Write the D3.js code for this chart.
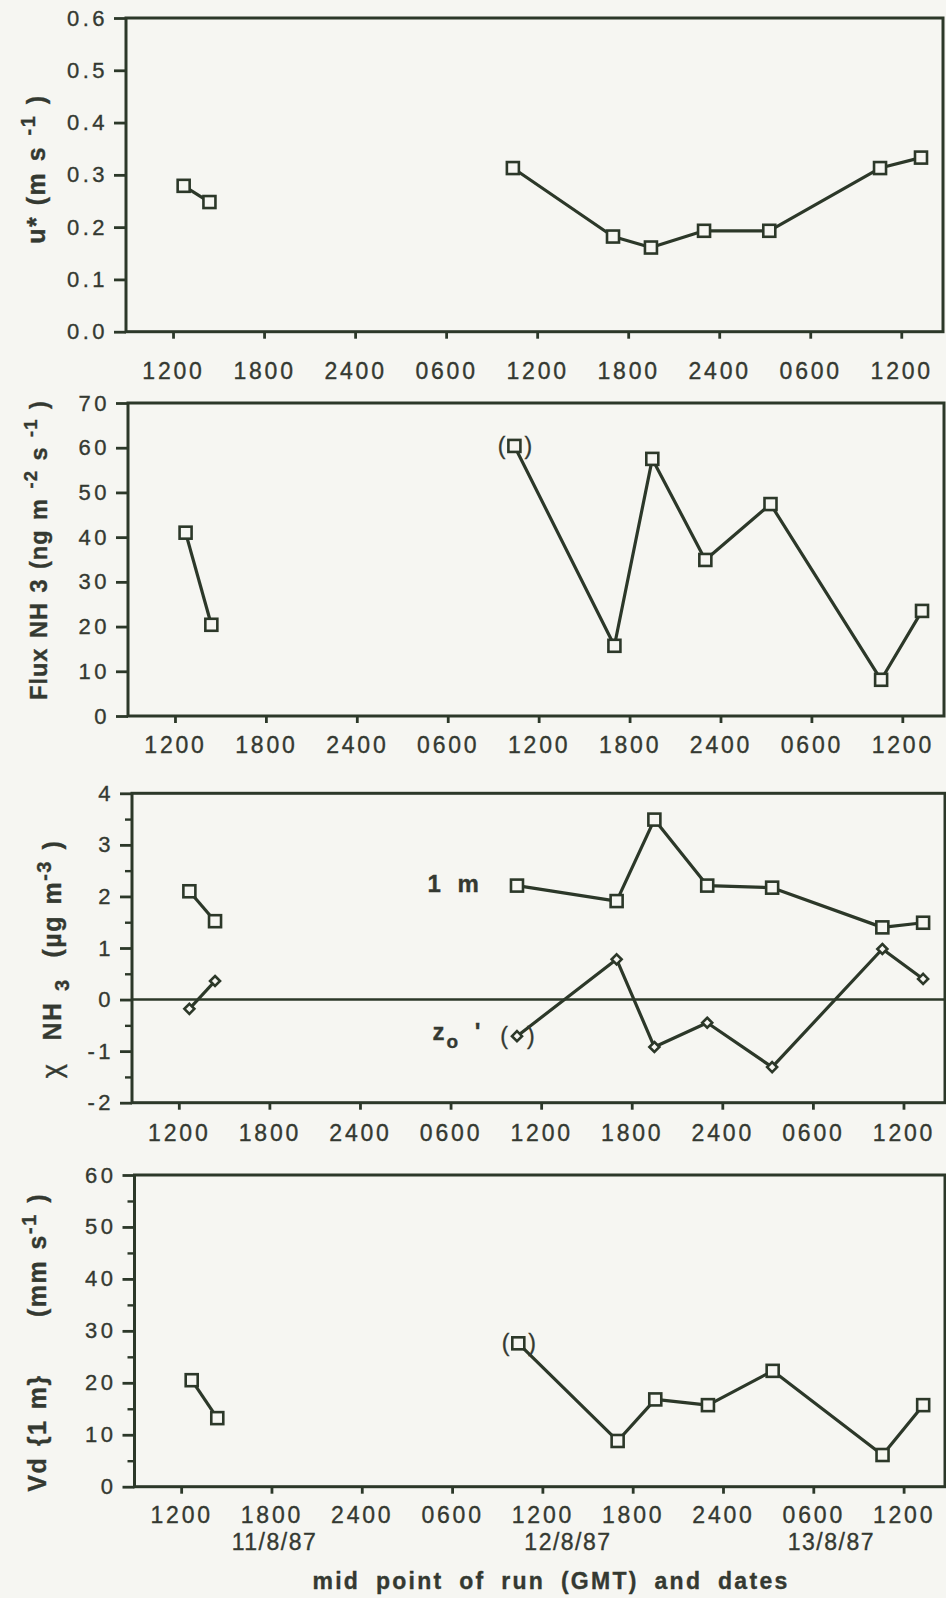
<html>
<head>
  <style>
    body { margin: 0; background: #f6f6f2; }
    text { font-family: 'Liberation Sans', Arial, Helvetica, sans-serif; fill: #343931; stroke: #343931; stroke-width: 0.35px; white-space: pre; }
  </style>
</head>

<body>

	<script src="https://d3js.org/d3.v7.min.js"></script>

	<script>
		//mid point of each run, hours after 0000 GMT on 11/8/87
		var runHours = [12.7, 14.4, 34.4, 41.0, 43.5, 47.0, 51.3, 58.6, 61.3];
		//runs that were measured one after the other (start index, end index)
		var runBlocks = [[0, 2], [2, 9]];
		//the doubtful run that is printed in brackets
		var bracketRun = 2;

		//friction velocity u* (m s-1)
		var uStar = [0.279, 0.248, 0.313, 0.182, 0.161, 0.193, 0.193, 0.313, 0.333];
		//NH3 flux (ng m-2 s-1)
		var fluxNH3 = [41.0, 20.4, 60.4, 15.7, 57.5, 34.9, 47.4, 8.1, 23.5];
		//NH3 concentration at 1 m and at zo' (ug m-3)
		var conc1m = [2.10, 1.52, 2.21, 1.91, 3.49, 2.21, 2.17, 1.40, 1.49];
		var concZo = [-0.18, 0.36, -0.71, 0.78, -0.92, -0.45, -1.31, 0.98, 0.40];
		//deposition velocity at 1 m (mm s-1)
		var vd1m = [20.5, 13.2, 27.6, 8.8, 16.8, 15.7, 22.3, 6.1, 15.7];

		//time axis
		var hourTicks = [12, 18, 24, 30, 36, 42, 48, 54, 60];
		var hourLabels = ['1200', '1800', '2400', '0600', '1200', '1800', '2400', '0600', '1200'];
		var dateLabels = ['11/8/87', '12/8/87', '13/8/87'];
		var dateHours = [18.2, 37.7, 55.2];

		//value axes
		var uStarTicks = [0, 0.1, 0.2, 0.3, 0.4, 0.5, 0.6];
		var fluxTicks = [0, 10, 20, 30, 40, 50, 60, 70];
		var concTicks = [-2, -1, 0, 1, 2, 3, 4];
		var concMinorTicks = [-1.5, -0.5, 0.5, 1.5, 2.5, 3.5];
		var vdTicks = [0, 10, 20, 30, 40, 50, 60];
		var vdMinorTicks = [5, 15, 25, 35, 45, 55];

		//svg container
		var width = 946;
		var height = 1598;
		var hourDomain = [8.9, 62.75];
		var ink = '#2c3829';
		var paper = '#f6f6f2';

		var svg = d3.select('body')
						.append('svg')
						.attr('width', width)
						.attr('height', height)
						;

		svg.append('rect')
			.attr('width', width)
			.attr('height', height)
			.attr('fill', paper)
			;

		//one entry per stacked panel; box is left, right, top, bottom in pixels
		var panels = [
			{
				box: [126, 943, 18, 331.7], domain: [0, 0.6], ticks: uStarTicks, minor: [],
				format: d3.format('.1f'), labelPad: 25,
				series: [{ values: uStar, marker: 'square', bracket: false }],
				titles: [{ x: 45, y: 169, size: 25, spacing: 1.5, parts: [['u* (m s ', 0], ['-1', 1], [' )', 0]] }]
			},
			{
				box: [128, 944, 403, 716], domain: [0, 70], ticks: fluxTicks, minor: [],
				format: String, labelPad: 15,
				series: [{ values: fluxNH3, marker: 'square', bracket: true }],
				titles: [{ x: 47, y: 550, size: 23.5, spacing: 1, parts: [['Flux NH 3 (ng m ', 0], ['-2', 1], [' s ', 0], ['-1', 1], [' )', 0]] }]
			},
			{
				box: [132, 945, 793.3, 1102.7], domain: [-2, 4], ticks: concTicks, minor: concMinorTicks,
				format: String, labelPad: 16, zeroLine: true,
				series: [
					{ values: conc1m, marker: 'square', bracket: false },
					{ values: concZo, marker: 'diamond', bracket: true }
				],
				titles: [{ x: 61, y: 959, size: 25, spacing: 1.5, parts: [['\u03c7  ', 2], ['NH ', 0], ['3', -1], ['  (\u00b5g m', 0], ['-3', 1], [' )', 0]] }],
				notes: [
					{ hour: 32.0, value: 2.08, anchor: 'end', parts: [['1 m', 0]] },
					{ hour: 28.8, value: -0.78, anchor: 'start', parts: [['z', 0], ['o', -1], [" '", 0]] }
				]
			},
			{
				box: [134.5, 945, 1175, 1486.7], domain: [0, 60], ticks: vdTicks, minor: vdMinorTicks,
				format: String, labelPad: 14, dates: true,
				series: [{ values: vd1m, marker: 'square', bracket: true }],
				titles: [
					{ x: 46, y: 1433, size: 25, spacing: 1.5, parts: [['Vd {1 m}', 0]] },
					{ x: 46, y: 1255, size: 25, spacing: 1.5, parts: [['(mm s', 0], ['-1', 1], [' )', 0]] }
				]
			}
		];

		//write text made of normal, raised (1) and lowered (-1) pieces; 2 = normal weight
		function richText(sel, parts, size) {
			var shift = 0;
			parts.forEach(function(p) {
				var target = p[1] === 1 ? -10 : (p[1] === -1 ? 8 : 0);
				var t = sel.append('tspan')
					.attr('dy', target - shift)
					.text(p[0]);
				if (p[1] === 1 || p[1] === -1) t.style('font-size', (size - 5) + 'px');
				if (p[1] === 2) t.style('font-weight', 'normal').style('font-size', (size + 2) + 'px');
				shift = target;
			});
		}

		panels.forEach(function(p) {

			var left = p.box[0], right = p.box[1], top = p.box[2], bottom = p.box[3];
			var x = d3.scaleLinear().domain(hourDomain).range([left, right]);
			var y = d3.scaleLinear().domain(p.domain).range([bottom, top]);
			var g = svg.append('g');

			//zero line
			if (p.zeroLine) {
				g.append('line')
					.attr('x1', left).attr('x2', right)
					.attr('y1', y(0)).attr('y2', y(0))
					.attr('stroke', ink)
					.attr('stroke-width', 2.4)
					;
			}

			//time axis along the bottom
			var xAxis = g.append('g')
				.attr('transform', 'translate(0,' + bottom + ')')
				.attr('color', ink)
				.call(d3.axisBottom(x)
					.tickValues(hourTicks)
					.tickFormat(function(d, i) { return hourLabels[i]; })
					.tickSize(7)
					.tickSizeOuter(0)
					.tickPadding(p.labelPad - 1))
				;
			xAxis.select('.domain').remove();
			xAxis.selectAll('line').attr('stroke-width', 2.8);
			xAxis.selectAll('text').style('font-size', '23px').style('letter-spacing', '2.8px');

			//minor value ticks
			if (p.minor.length) {
				var minorAxis = g.append('g')
					.attr('transform', 'translate(' + left + ',0)')
					.attr('color', ink)
					.call(d3.axisLeft(y).tickValues(p.minor).tickFormat('').tickSize(7).tickSizeOuter(0))
					;
				minorAxis.select('.domain').remove();
				minorAxis.selectAll('line').attr('stroke-width', 2.4);
			}

			//value axis
			var yAxis = g.append('g')
				.attr('transform', 'translate(' + left + ',0)')
				.attr('color', ink)
				.call(d3.axisLeft(y)
					.tickValues(p.ticks)
					.tickFormat(p.format)
					.tickSize(12)
					.tickSizeOuter(0)
					.tickPadding(6))
				;
			yAxis.select('.domain').remove();
			yAxis.selectAll('line').attr('stroke-width', 2.8);
			yAxis.selectAll('text').style('font-size', '22px').style('letter-spacing', '3.5px');

			//frame
			g.append('rect')
				.attr('x', left)
				.attr('y', top)
				.attr('width', right - left)
				.attr('height', bottom - top)
				.attr('fill', 'none')
				.attr('stroke', ink)
				.attr('stroke-width', 3)
				;

			//lines and markers
			p.series.forEach(function(s) {
				var line = d3.line()
					.x(function(i) { return x(runHours[i]); })
					.y(function(i) { return y(s.values[i]); });

				runBlocks.forEach(function(b) {
					g.append('path')
						.datum(d3.range(b[0], b[1]))
						.attr('d', line)
						.attr('fill', 'none')
						.attr('stroke', ink)
						.attr('stroke-width', 3.2)
						.attr('stroke-linejoin', 'round')
						;
				});

				var idx = d3.range(runHours.length);
				if (s.marker === 'square') {
					g.selectAll(null)
						.data(idx)
						.enter()
						.append('rect')
						.attr('x', function(i) { return x(runHours[i]) - 6; })
						.attr('y', function(i) { return y(s.values[i]) - 6; })
						.attr('width', 12)
						.attr('height', 12)
						.attr('fill', paper)
						.attr('stroke', ink)
						.attr('stroke-width', 2.6)
						;
				}
				else {
					g.selectAll(null)
						.data(idx)
						.enter()
						.append('path')
						.attr('d', function(i) {
							var cx = x(runHours[i]), cy = y(s.values[i]);
							return 'M' + cx + ',' + (cy - 5) + 'L' + (cx + 5) + ',' + cy + 'L' + cx + ',' + (cy + 5) + 'L' + (cx - 5) + ',' + cy + 'Z';
						})
						.attr('fill', paper)
						.attr('stroke', ink)
						.attr('stroke-width', 2.6)
						;
				}

				//brackets round the doubtful run
				if (s.bracket) {
					var bx = x(runHours[bracketRun]), by = y(s.values[bracketRun]);
					g.append('text')
						.attr('x', bx - 9).attr('y', by + 8)
						.attr('text-anchor', 'end')
						.style('font-size', '23px')
						.text('(');
					g.append('text')
						.attr('x', bx + 10).attr('y', by + 8)
						.attr('text-anchor', 'start')
						.style('font-size', '23px')
						.text(')');
				}
			});

			//series names inside the panel
			(p.notes || []).forEach(function(n) {
				var t = g.append('text')
					.attr('x', x(n.hour))
					.attr('y', y(n.value))
					.attr('text-anchor', n.anchor)
					.style('font-size', '24px')
					.style('font-weight', 'bold')
					.style('letter-spacing', '2px')
					.style('word-spacing', '6px')
					;
				richText(t, n.parts, 24);
			});

			//axis titles, turned on their side
			p.titles.forEach(function(tt) {
				var t = g.append('text')
					.attr('transform', 'translate(' + tt.x + ',' + tt.y + ') rotate(-90)')
					.attr('text-anchor', 'middle')
					.style('font-size', tt.size + 'px')
					.style('font-weight', 'bold')
					.style('letter-spacing', tt.spacing + 'px')
					.style('word-spacing', '2px')
					;
				richText(t, tt.parts, tt.size);
			});

			//dates and the time axis title under the last panel
			if (p.dates) {
				g.selectAll(null)
					.data(dateLabels)
					.enter()
					.append('text')
					.attr('x', function(d, i) { return x(dateHours[i]); })
					.attr('y', bottom + 63)
					.attr('text-anchor', 'middle')
					.style('font-size', '23px')
					.style('letter-spacing', '1.5px')
					.text(function(d) { return d; })
					;

				g.append('text')
					.attr('x', 551)
					.attr('y', 1589)
					.attr('text-anchor', 'middle')
					.style('font-size', '23px')
					.style('font-weight', 'bold')
					.style('letter-spacing', '2.3px')
					.style('word-spacing', '7px')
					.text('mid point of run (GMT) and dates')
					;
			}
		});

	</script>

</body>
</html>
